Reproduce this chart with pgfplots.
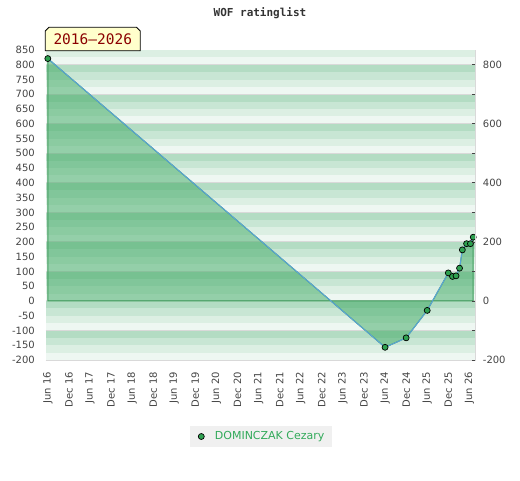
\documentclass[border=0pt]{standalone}
\usepackage{fontspec}
\setmainfont{DejaVu Sans}
\newfontfamily\monofont{DejaVu Sans Mono}
\usepackage{pgfplots}
\pgfplotsset{compat=1.18}
\definecolor{sA}{RGB}{179,220,195}
\definecolor{sB}{RGB}{200,230,212}
\definecolor{sC}{RGB}{220,239,227}
\definecolor{sD}{RGB}{238,247,242}
\definecolor{gridgrey}{RGB}{217,217,217}
\definecolor{labgrey}{RGB}{68,68,68}
\definecolor{areagreen}{RGB}{60,168,97}
\definecolor{edgegreen}{RGB}{60,155,90}
\definecolor{lineblue}{RGB}{91,163,217}
\definecolor{markgreen}{RGB}{46,160,80}
\definecolor{legendgrey}{RGB}{240,240,240}
\definecolor{legendgreen}{RGB}{50,170,90}
\definecolor{boxyellow}{RGB}{255,255,204}
\definecolor{boxred}{RGB}{139,0,0}
\definecolor{titlegrey}{RGB}{51,51,51}
\begin{document}
\begin{tikzpicture}[x=1pt,y=1pt]
\useasboundingbox (0,0) rectangle (520,480);
\begin{axis}[
  at={(45.7pt,120pt)}, anchor=south west,
  scale only axis, width=429.3pt, height=310pt,
  xmin=-0.6, xmax=121.6, ymin=-200, ymax=850,
  axis line style={gridgrey},
  major tick length=0pt,
  xtick={0,6,...,120},
  xticklabels={Jun 16,Dec 16,Jun 17,Dec 17,Jun 18,Dec 18,Jun 19,Dec 19,Jun 20,Dec 20,Jun 21,Dec 21,Jun 22,Dec 22,Jun 23,Dec 23,Jun 24,Dec 24,Jun 25,Dec 25,Jun 26},
  xticklabel style={yshift=-12pt, rotate=90, anchor=east, inner sep=0pt, font=\fontsize{10}{12}\selectfont, text=labgrey},
  ytick={-200,-150,...,850},
  yticklabel style={xshift=-10.7pt, anchor=east, inner sep=0pt, font=\fontsize{10}{12}\selectfont, text=labgrey},
  /pgf/number format/assume math mode=true,
  legend style={at={(0.5012,-0.2468)}, anchor=center, fill=legendgrey, draw=none,
    inner xsep=7.7pt, inner ysep=0pt, column sep=0pt, nodes={inner sep=0pt},
    font=\fontsize{11}{13}\selectfont, text=legendgreen},
]
\pgfplotsinvokeforeach{-200,-100,...,800}{
  \fill[sA] (axis cs:-0.6,{min(#1+75,850)}) rectangle (axis cs:121.6,{min(#1+100,850)});
  \fill[sB] (axis cs:-0.6,{min(#1+50,850)}) rectangle (axis cs:121.6,{min(#1+75,850)});
  \fill[sC] (axis cs:-0.6,{min(#1+25,850)}) rectangle (axis cs:121.6,{min(#1+50,850)});
  \fill[sD] (axis cs:-0.6,#1) rectangle (axis cs:121.6,{min(#1+25,850)});
  \draw[gridgrey, line width=1pt] (axis cs:-0.6,#1) -- (axis cs:121.6,#1);
}
\addplot[fill=areagreen, fill opacity=0.5, draw=edgegreen, line width=1pt, forget plot]
  coordinates {(0,821) (96,-157) (102,-125) (108,-32) (114,95) (115.2,83) (116.2,85) (117.2,111) (118,173) (119.2,194) (120.3,194) (121.1,216)} \closedcycle;
\addplot[lineblue, line width=1pt, mark=*, mark size=3pt,
  mark options={fill=markgreen, draw=black, line width=0.7pt},
  legend image code/.code={\path[draw=none, fill=none] (-4pt,-10.5pt) rectangle (13.6pt,10.5pt);
    \node[circle, fill=markgreen, draw=black, line width=0.7pt, inner sep=0pt, minimum size=6pt] at (0pt,0pt) {};}]
  coordinates {(0,821) (96,-157) (102,-125) (108,-32) (114,95) (115.2,83) (116.2,85) (117.2,111) (118,173) (119.2,194) (120.3,194) (121.1,216)};
\addlegendentry{DOMINCZAK Cezary}
\end{axis}
\begin{axis}[
  at={(45.7pt,120pt)}, anchor=south west,
  scale only axis, width=429.3pt, height=310pt,
  xmin=-0.6, xmax=121.6, ymin=-200, ymax=850,
  axis x line=none, axis y line*=right,
  axis line style={gridgrey},
  ytick={-200,-100,...,800},
  yticklabels={-200,,0,,200,,400,,600,,800},
  tick align=inside, major tick length=3.5pt,
  tick style={labgrey, line width=0.8pt},
  yticklabel style={xshift=7.7pt, anchor=west, inner sep=0pt, font=\fontsize{10}{12}\selectfont, text=labgrey},
  /pgf/number format/assume math mode=true,
]
\end{axis}
\node[font=\monofont\bfseries\fontsize{11}{13}\selectfont, text=titlegrey] at (260,467) {WOF ratinglist};
\draw[fill=boxyellow, draw=black, line width=0.8pt] (45.3,429.3) -- (45.3,449) -- (49,452.7) -- (136.6,452.7) -- (140.3,449) -- (140.3,429.3) -- cycle;
\node[font=\monofont\fontsize{14.5}{16}\selectfont, text=boxred] at (92.8,440.5) {2016–2026};
\end{tikzpicture}
\end{document}
